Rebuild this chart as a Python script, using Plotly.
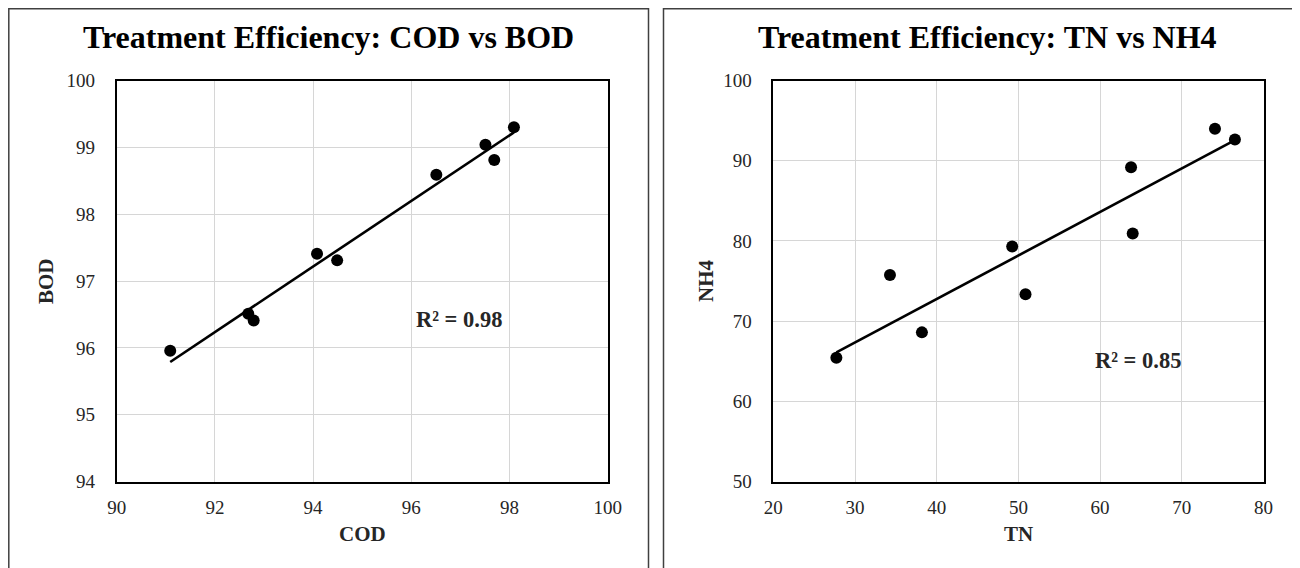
import numpy as np
import plotly.graph_objects as go

# ---- data ----
cod = [91.09, 92.68, 92.79, 94.08, 94.49, 96.51, 97.51, 97.69, 98.09]
bod = [95.96, 96.51, 96.41, 97.41, 97.31, 98.59, 99.04, 98.81, 99.30]
tn = [27.72, 34.28, 38.19, 49.24, 50.87, 63.79, 63.99, 74.06, 76.50]
nh4 = [65.45, 75.76, 68.61, 79.31, 73.35, 89.20, 80.93, 93.98, 92.66]

titles = ["Treatment Efficiency: COD vs BOD", "Treatment Efficiency: TN vs NH4"]
r2_labels = ["R² = 0.98", "R² = 0.85"]
x_ticks_left = [90, 92, 94, 96, 98, 100]
y_ticks_left = [94, 95, 96, 97, 98, 99, 100]
x_ticks_right = [20, 30, 40, 50, 60, 70, 80]
y_ticks_right = [50, 60, 70, 80, 90, 100]

FONT = "Liberation Serif"
W, H = 1300, 568
OFF = 8  # page body margin


def px(x):
    return (x - OFF) / W


def py(y):
    return (H - (y - OFF)) / H


def trend(x, y):
    x = np.array(x); y = np.array(y)
    m, b = np.polyfit(x, y, 1)
    xs = np.array([x.min(), x.max()])
    return xs, m * xs + b


fig = go.Figure()

for i, (xv, yv) in enumerate([(cod, bod), (tn, nh4)]):
    xa = "x" if i == 0 else "x2"
    ya = "y" if i == 0 else "y2"
    tx, ty = trend(xv, yv)
    fig.add_trace(go.Scatter(x=tx, y=ty, mode="lines", line=dict(color="black", width=2.6),
                             xaxis=xa, yaxis=ya, showlegend=False, hoverinfo="skip"))
    fig.add_trace(go.Scatter(x=xv, y=yv, mode="markers", marker=dict(color="black", size=12),
                             xaxis=xa, yaxis=ya, showlegend=False))

ydom = [py(481.7), py(80.5)]
xdom_l = [px(116.7), px(607.7)]
xdom_r = [px(773.3), px(1263.5)]

axis_common = dict(showline=True, mirror=True, linecolor="black", linewidth=1.6,
                   showgrid=True, gridcolor="#d6d6d6", gridwidth=1.4, zeroline=False,
                   automargin=False,
                   ticks="", tickfont=dict(family=FONT, size=19, color="#262626"))

fig.update_layout(
    template="none",
    width=W, height=H, margin=dict(l=0, r=0, t=0, b=0, autoexpand=False),
    paper_bgcolor="white", plot_bgcolor="white",
    xaxis=dict(domain=xdom_l, range=[90, 100], tickvals=x_ticks_left, anchor="y",
               ticklabelstandoff=8, **axis_common),
    yaxis=dict(domain=ydom, range=[94, 100], tickvals=y_ticks_left, anchor="x",
               ticklabelstandoff=16, **axis_common),
    xaxis2=dict(domain=xdom_r, range=[20, 80], tickvals=x_ticks_right, anchor="y2",
                ticklabelstandoff=8, **axis_common),
    yaxis2=dict(domain=ydom, range=[50, 100], tickvals=y_ticks_right, anchor="x2",
                ticklabelstandoff=16, **axis_common),
)

# outer chart borders (top/left edges sit at the visible page edge)
for x0, x1 in [(8.8, 648.5), (663.5, 1297)]:
    fig.add_shape(type="rect", xref="paper", yref="paper",
                  x0=px(x0), x1=px(x1), y0=-0.05, y1=py(8.8),
                  line=dict(color="#404040", width=1.5), fillcolor="rgba(0,0,0,0)")

# titles
for t, cx in zip(titles, [328, 987]):
    fig.add_annotation(text="<b>%s</b>" % t, xref="paper", yref="paper",
                       x=px(cx), y=py(37), showarrow=False,
                       font=dict(family=FONT, size=32, color="black"),
                       xanchor="center", yanchor="middle")

# axis titles
for t, cx in [("COD", 362), ("TN", 1018)]:
    fig.add_annotation(text="<b>%s</b>" % t, xref="paper", yref="paper",
                       x=px(cx), y=py(534), showarrow=False,
                       font=dict(family=FONT, size=21, color="#262626"),
                       xanchor="center", yanchor="middle")
for t, cx in [("BOD", 46), ("NH4", 706)]:
    fig.add_annotation(text="<b>%s</b>" % t, xref="paper", yref="paper",
                       x=px(cx), y=py(281), showarrow=False, textangle=-90,
                       font=dict(family=FONT, size=21, color="#262626"),
                       xanchor="center", yanchor="middle")

# R² labels
fig.add_annotation(text="<b>%s</b>" % r2_labels[0], x=96.98, y=96.43, xref="x", yref="y",
                   showarrow=False, font=dict(family=FONT, size=22.5, color="#262626"))
fig.add_annotation(text="<b>%s</b>" % r2_labels[1], x=64.6, y=65.08, xref="x2", yref="y2",
                   showarrow=False, font=dict(family=FONT, size=22.5, color="#262626"))

fig.write_html("out.html")
